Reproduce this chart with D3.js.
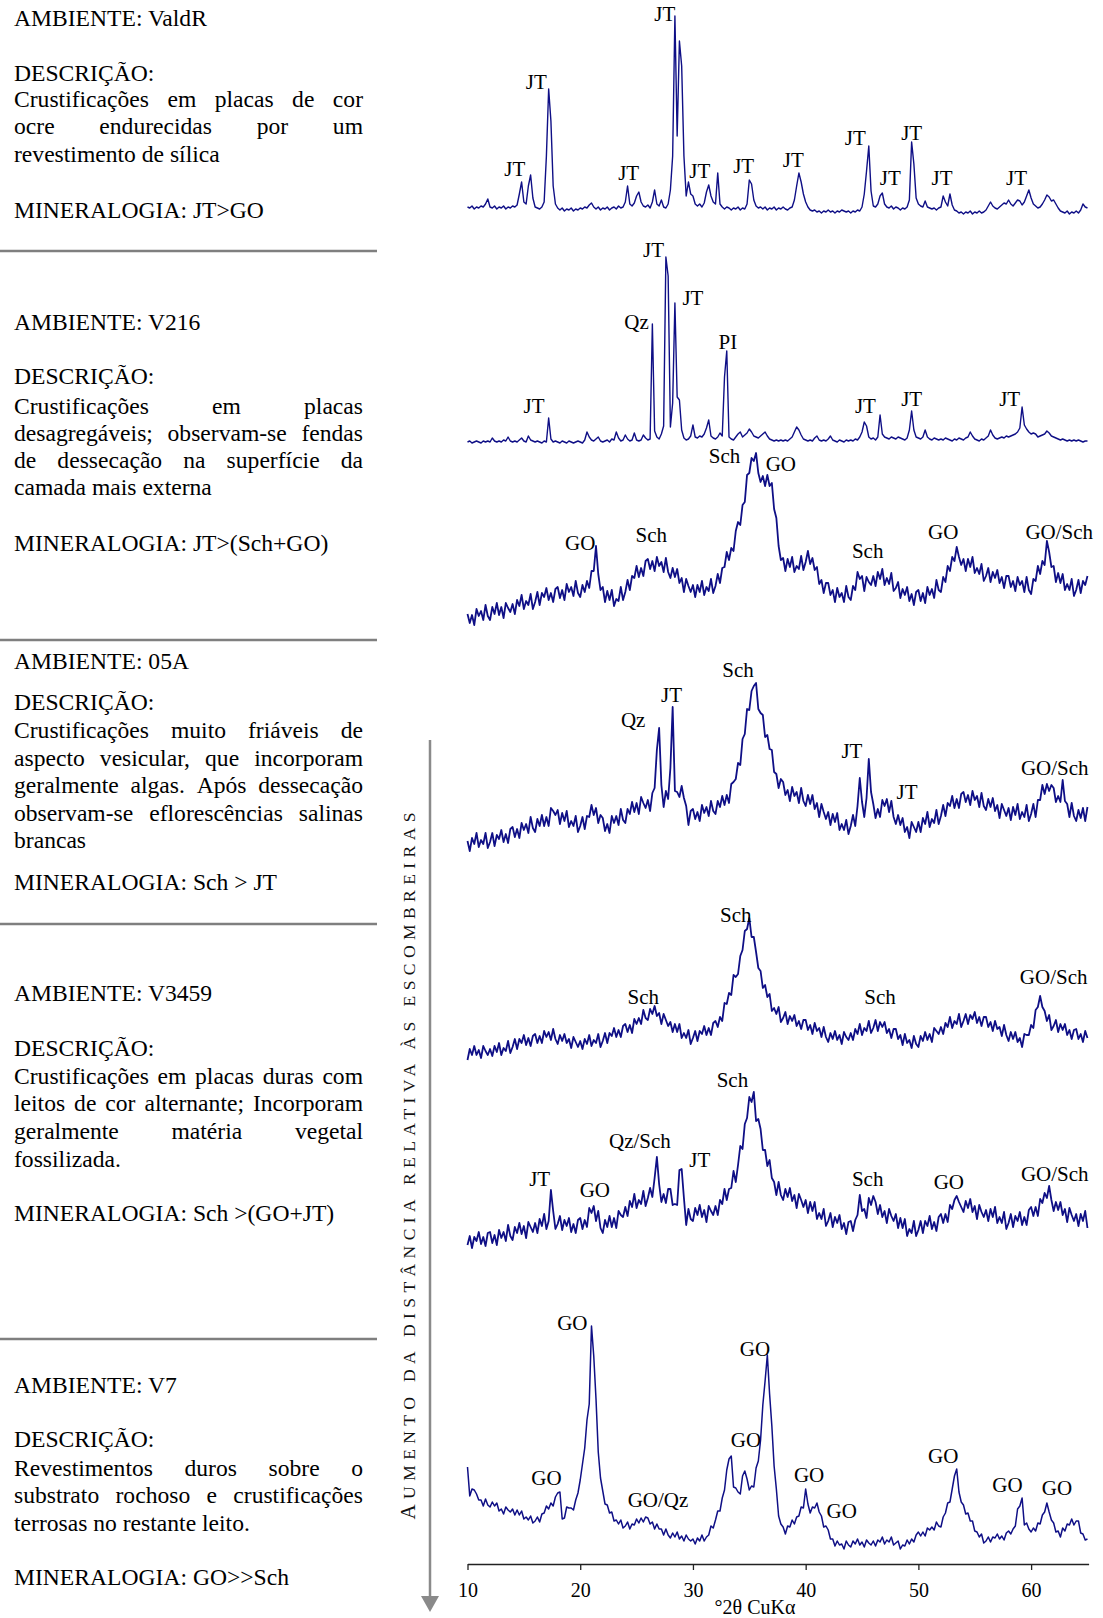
<!DOCTYPE html>
<html>
<head>
<meta charset="utf-8">
<script src="https://cdn.jsdelivr.net/npm/d3@7/dist/d3.min.js"></script>
<style>
  html, body { margin: 0; padding: 0; background: #fff; }
  svg { display: block; }
</style>
</head>
<body>
<svg id="fig" width="1103" height="1618"></svg>
<script>
// Every diffractogram is sampled on the same 2θ grid (degrees, Cu Kα)
const twoThetaStart = 10;
const twoThetaStep = 0.2;

// Intensities (counts, arbitrary units) from 10° to 65° in 0.2° steps, one row per 2°
const countsValdR = [
  9,8,10,7,9,8,10,9,12,17,
  9,8,10,7,9,8,10,7,9,8,
  10,9,11,22,34,14,12,30,41,18,
  9,8,7,9,14,60,127,95,30,12,
  8,6,8,5,7,6,8,5,7,6,
  8,7,9,8,11,13,9,7,9,6,
  8,7,9,6,8,9,7,10,8,9,
  14,30,12,10,13,20,24,14,10,9,
  11,8,14,26,12,10,16,9,8,12,
  26,60,200,80,175,150,60,20,34,22,
  20,12,10,12,9,13,24,31,20,14,
  12,43,12,9,7,9,8,6,8,7,
  9,6,8,7,12,36,32,16,10,8,
  9,7,9,6,8,7,9,6,8,7,
  9,7,6,8,9,16,30,43,34,22,
  14,9,6,5,6,4,5,3,5,4,
  6,4,5,3,5,4,6,5,4,5,
  3,5,4,6,5,9,22,45,70,25,
  10,9,12,20,23,12,9,8,10,7,
  9,8,6,8,7,9,16,74,52,18,
  12,10,9,15,9,8,7,8,6,8,
  9,20,14,10,22,11,6,5,3,4,
  2,4,3,5,2,4,3,5,3,4,
  6,10,14,10,8,7,9,11,13,12,
  16,12,10,13,16,15,11,14,20,26,
  18,12,10,8,9,12,16,21,19,15,
  16,12,8,5,4,3,5,2,4,3,
  5,3,6,12,9,8
];

const countsV216a = [
  4,5,3,4,5,4,3,5,4,5,
  4,8,5,4,5,4,6,5,9,5,
  4,5,4,6,8,5,4,10,6,5,
  4,5,4,3,5,4,28,7,4,5,
  4,3,5,4,3,5,4,3,4,5,
  4,3,6,14,9,6,5,7,9,5,
  4,5,6,4,7,6,14,8,5,6,
  11,7,5,6,13,6,5,6,11,8,
  6,7,122,15,9,7,12,20,189,170,
  19,43,143,49,46,16,8,6,7,10,
  21,9,8,10,9,12,18,26,10,8,
  7,9,13,10,69,95,9,7,6,9,
  12,14,9,11,13,17,14,10,9,8,
  10,12,14,10,7,6,5,6,5,6,
  5,6,5,7,9,14,19,16,11,7,
  6,5,6,5,8,10,6,5,6,5,
  7,10,6,5,4,6,5,4,6,5,
  6,5,7,6,9,14,24,20,9,7,
  8,6,9,31,12,9,8,7,9,8,
  7,9,8,7,6,8,16,35,16,9,
  8,7,9,16,9,7,6,8,7,6,
  7,6,8,7,6,5,7,6,8,7,
  6,8,9,14,10,7,6,5,7,6,
  8,10,16,11,8,7,8,9,8,10,
  9,10,11,12,14,18,39,21,17,14,
  12,13,12,9,10,11,12,15,13,10,
  9,8,7,6,7,6,5,6,5,6,
  5,6,5,4,5,5
];

const countsV216b = [
  18,9,17,7,23,16,21,12,27,16,
  12,25,18,29,17,25,14,29,24,20,
  28,18,32,26,37,23,31,27,38,23,
  30,40,27,39,35,44,32,39,30,43,
  45,34,42,32,48,40,45,36,51,39,
  35,47,40,51,44,61,61,86,58,42,
  45,30,41,32,42,26,33,31,45,32,
  40,52,42,56,54,66,55,64,56,71,
  73,63,71,61,75,66,70,60,74,60,
  54,64,55,63,49,54,40,53,46,40,
  47,35,47,40,51,37,45,41,53,39,
  46,58,49,64,65,80,72,84,81,101,
  110,107,127,130,157,159,174,171,179,159,
  150,156,146,157,146,149,123,114,86,72,
  74,61,73,65,75,60,66,63,76,62,
  70,81,68,74,62,65,48,52,39,49,
  49,37,42,30,44,35,39,30,46,35,
  32,46,42,60,53,56,41,55,50,47,
  56,46,60,53,63,47,54,48,59,41,
  44,50,34,43,37,45,31,38,27,40,
  42,31,39,29,45,37,43,34,52,42,
  40,55,50,66,61,75,71,85,75,67,
  73,61,73,65,75,59,64,58,68,51,
  56,64,50,60,54,62,49,55,44,56,
  56,45,51,41,55,47,51,40,55,42,
  38,53,51,66,58,71,67,91,80,65,
  66,50,59,49,58,42,48,42,53,36,
  42,52,39,51,47,56
];

const counts05A = [
  19,9,22,16,27,13,20,16,27,12,
  18,27,14,25,21,30,18,26,17,31,
  33,23,31,22,37,30,36,27,43,32,
  28,41,34,45,34,43,34,52,49,45,
  50,36,47,39,49,33,39,34,44,28,
  34,43,31,44,43,55,45,52,37,45,
  42,29,36,27,44,37,44,35,51,40,
  37,51,46,58,48,57,46,63,57,52,
  60,49,67,72,110,132,75,53,69,61,
  92,153,69,68,63,74,62,54,35,49,
  51,41,48,39,55,47,53,44,59,49,
  46,59,53,64,55,65,57,76,78,81,
  97,95,121,126,151,150,169,174,177,151,
  147,145,123,125,111,110,88,86,72,81,
  78,65,70,59,73,64,68,57,72,59,
  54,65,56,65,51,57,43,56,48,41,
  48,35,46,38,47,30,36,30,40,26,
  34,45,34,54,82,58,43,62,101,68,
  56,42,51,43,60,54,61,48,59,43,
  36,45,35,42,28,33,22,38,33,28,
  38,28,42,36,48,33,41,37,50,36,
  44,55,44,57,54,64,52,61,52,66,
  68,58,65,55,69,60,64,53,67,54,
  50,61,53,62,49,55,42,56,50,44,
  52,40,53,45,56,41,48,43,55,39,
  46,56,43,60,60,75,66,76,69,75,
  72,58,64,58,80,59,56,43,57,44,
  39,50,42,52,39,53
];

const countsV3459a = [
  2,13,7,16,7,12,4,16,11,7,
  13,6,16,10,19,7,14,11,21,9,
  15,23,13,23,19,27,17,24,16,26,
  28,19,26,19,31,25,30,22,33,23,
  18,27,21,28,19,23,14,25,20,15,
  21,13,23,18,27,16,22,19,28,15,
  21,29,19,29,26,34,25,32,25,36,
  38,30,37,29,43,38,44,38,52,44,
  42,53,48,56,46,49,38,48,42,36,
  40,30,38,30,38,24,29,24,32,18,
  24,31,21,31,28,36,27,34,27,39,
  41,35,45,41,59,58,69,67,87,85,
  88,106,112,131,133,144,125,125,110,94,
  91,74,77,65,68,51,54,48,55,40,
  44,50,38,46,41,47,36,41,33,42,
  42,32,37,28,39,31,34,25,35,25,
  20,29,23,31,22,27,18,30,25,22,
  29,22,33,28,38,27,34,31,41,29,
  34,42,31,40,35,40,29,33,24,33,
  33,23,27,17,28,19,22,14,26,18,
  15,26,21,30,22,28,20,34,31,28,
  35,28,39,35,45,34,41,38,48,35,
  41,48,38,47,43,50,39,45,36,45,
  45,35,40,31,41,33,35,26,37,27,
  21,30,23,30,20,24,15,28,27,27,
  37,34,52,55,66,55,51,41,47,32,
  36,42,30,38,32,38,27,32,23,32,
  33,23,28,20,31,24
];

const countsV3459b = [
  7,16,4,15,11,20,8,15,6,19,
  20,9,17,7,22,14,20,11,27,16,
  12,25,19,29,18,26,14,30,25,20,
  29,19,33,26,38,23,31,62,41,23,
  28,36,22,32,26,34,20,28,19,32,
  34,23,32,25,44,39,46,31,41,24,
  19,32,25,36,25,34,24,41,37,35,
  45,36,51,45,58,44,52,48,61,46,
  54,64,55,74,95,68,50,58,49,63,
  63,47,48,47,82,83,54,27,43,33,
  31,44,37,47,35,42,30,46,41,37,
  46,37,52,48,63,52,63,64,81,70,
  87,106,103,128,134,155,150,160,131,133,
  123,102,102,86,92,74,70,57,70,57,
  52,63,55,64,51,57,44,58,52,45,
  52,39,50,41,50,33,39,33,43,26,
  31,39,25,35,29,37,23,29,18,30,
  31,21,32,37,57,41,43,34,54,47,
  56,50,38,47,35,41,29,43,36,31,
  38,24,34,24,33,16,23,19,31,16,
  22,31,19,31,26,36,23,30,21,35,
  38,29,38,30,47,43,52,56,50,45,
  40,51,44,53,40,46,33,47,40,35,
  42,31,43,35,45,29,35,29,40,23,
  29,38,25,36,31,40,27,35,27,42,
  45,36,45,36,53,49,59,54,66,52,
  41,50,42,50,37,43,30,44,37,31,
  38,26,38,31,41,24
];

const countsV7 = [
  85,56,63,62,58,52,52,46,53,47,
  45,50,46,49,41,43,38,45,42,40,
  43,37,42,37,41,33,35,32,36,29,
  31,35,30,38,39,46,43,49,46,55,
  59,60,33,34,45,44,44,42,52,59,
  72,88,104,132,148,226,196,153,100,74,
  61,48,47,39,40,31,32,28,32,24,
  26,30,23,28,27,33,29,34,30,35,
  34,28,30,23,28,23,23,17,23,17,
  14,19,15,20,13,16,11,17,13,11,
  13,8,14,11,17,11,15,17,26,24,
  32,41,41,54,62,82,93,96,65,64,
  60,58,76,81,73,62,66,65,84,91,
  112,147,171,197,158,126,86,63,36,28,
  25,18,26,25,32,28,35,36,45,44,
  63,48,39,45,44,49,40,36,25,26,
  22,13,13,6,11,7,8,3,11,7,
  5,11,8,13,7,10,5,12,9,7,
  11,6,12,10,15,8,12,10,15,7,
  9,11,3,7,6,12,8,13,10,17,
  20,16,20,16,24,22,25,22,30,26,
  25,35,39,49,50,63,76,83,60,50,
  47,38,39,31,31,21,20,15,18,9,
  11,15,10,15,14,18,13,16,12,19,
  21,18,23,26,43,46,54,27,29,23,
  20,24,21,29,28,37,40,49,40,32,
  29,20,21,15,24,21,28,27,33,27,
  31,31,19,18,12,13
];

// Phase identifications: [label, 2θ, count level of the label]
const labelsValdR = [["JT",14.2,47],["JT",16.1,134],["JT",24.3,43],["JT",27.5,202],["JT",30.6,45],["JT",34.5,50],
  ["JT",38.9,56],["JT",44.4,78],["JT",49.4,83],["JT",47.5,38],["JT",52.1,38],["JT",58.7,38]];
const labelsV216a = [["JT",15.9,40],["Qz",25.0,124],["JT",26.5,196],["JT",30.0,148],["PI",33.1,104],
  ["JT",45.3,40],["JT",49.4,47],["JT",58.1,47]];
const labelsV216b = [["Sch",32.8,176],["GO",37.8,168],["GO",20.0,89],["Sch",26.3,97],["Sch",45.5,81],
  ["GO",52.2,100],["GO/Sch",62.5,100]];
const labels05A = [["Sch",34.0,190],["JT",28.1,165],["Qz",24.7,140],["JT",44.1,109],["JT",49.0,68],["GO/Sch",62.1,92]];
const labelsV3459a = [["Sch",33.8,147],["Sch",25.6,65],["Sch",46.6,65],["GO/Sch",62.0,85]];
const labelsV3459b = [["Sch",33.5,172],["Qz/Sch",25.3,111],["JT",30.6,92],["JT",16.4,73],["GO",21.3,62],
  ["Sch",45.5,73],["GO",52.7,70],["GO/Sch",62.1,78]];
const labelsV7 = [["GO",19.3,229],["GO",35.5,203],["GO",34.7,112],["GO",17.0,74],["GO/Qz",26.9,52],
  ["GO",40.3,77],["GO",43.2,41],["GO",52.2,96],["GO",57.9,67],["GO",62.3,64]];

const xTicks = [10, 20, 30, 40, 50, 60];
const xTitle = "°2θ CuKα";
// caption of the trend arrow: initial capital, then the rest set in small capitals
const trendInitial = "A";
const trendRest = "UMENTO DA DISTÂNCIA RELATIVA ÀS ESCOMBREIRAS";

// Sample descriptions
const ambientes = ["AMBIENTE: ValdR", "AMBIENTE: V216", "AMBIENTE: 05A", "AMBIENTE: V3459", "AMBIENTE: V7"];
const descricaoTitulo = "DESCRIÇÃO:";
const descricoes = [
  ["Crustificações em placas de cor", "ocre endurecidas por um", "revestimento de sílica"],
  ["Crustificações em placas", "desagregáveis; observam-se fendas", "de dessecação na superfície da", "camada mais externa"],
  ["Crustificações muito friáveis de", "aspecto vesicular, que incorporam", "geralmente algas. Após dessecação",
   "observam-se eflorescências salinas", "brancas"],
  ["Crustificações em placas duras com", "leitos de cor alternante; Incorporam", "geralmente matéria vegetal", "fossilizada."],
  ["Revestimentos duros sobre o", "substrato rochoso e crustificações", "terrosas no restante leito."]
];
const mineralogias = ["MINERALOGIA: JT>GO", "MINERALOGIA: JT>(Sch+GO)", "MINERALOGIA: Sch > JT",
  "MINERALOGIA: Sch >(GO+JT)", "MINERALOGIA: GO>>Sch"];

// ---------------- layout ----------------
const W = 1103, H = 1618;
const SERIF = "'Liberation Serif', 'Times New Roman', Times, serif";
const INK = "#0f0f86";
const svg = d3.select("#fig").attr("width", W).attr("height", H);
svg.append("rect").attr("width", W).attr("height", H).attr("fill", "#fff");

// Text column on the left
const textX = 14, textRight = 363;
const panelLayout = [
  { amb: 26,   desc: 80.5, first: 107,    step: 27.3, min: 218 },
  { amb: 330,  desc: 384,  first: 413.5,  step: 27.2, min: 551 },
  { amb: 669,  desc: 710,  first: 738,    step: 27.5, min: 890 },
  { amb: 1001, desc: 1056, first: 1083.5, step: 27.7, min: 1221 },
  { amb: 1393, desc: 1447, first: 1475.5, step: 27.5, min: 1585 }
];
const separators = [251, 640, 924, 1339];

const textG = svg.append("g").attr("font-family", SERIF).attr("font-size", 23.6).attr("fill", "#000");
const probe = textG.append("text").attr("x", -1000).attr("y", -1000);
const measure = s => { probe.text(s); return probe.node().getComputedTextLength(); };

function writeLine(str, yb, justify) {
  if (!justify) {
    textG.append("text").attr("x", textX).attr("y", yb).text(str);
    return;
  }
  const words = str.split(" ");
  const widths = words.map(measure);
  const gap = (textRight - textX - d3.sum(widths)) / (words.length - 1);
  const t = textG.append("text").attr("y", yb);
  let cx = textX;
  words.forEach((w, i) => {
    t.append("tspan").attr("x", cx).text(w);
    cx += widths[i] + gap;
  });
}

panelLayout.forEach((p, k) => {
  writeLine(ambientes[k], p.amb, false);
  writeLine(descricaoTitulo, p.desc, false);
  const lines = descricoes[k];
  lines.forEach((ln, i) => writeLine(ln, p.first + i * p.step, i < lines.length - 1));
  writeLine(mineralogias[k], p.min, false);
});
probe.remove();

svg.append("g").selectAll("line").data(separators).join("line")
  .attr("x1", 0).attr("x2", 377).attr("y1", d => d).attr("y2", d => d)
  .attr("stroke", "#7f7f7f").attr("stroke-width", 2.5);

// Trend arrow and its caption
svg.append("line").attr("x1", 430).attr("x2", 430).attr("y1", 740).attr("y2", 1600)
  .attr("stroke", "#8a8a8a").attr("stroke-width", 2.5);
svg.append("path").attr("d", "M421,1596L439,1596L430,1612Z").attr("fill", "#8a8a8a");
const trend = svg.append("text")
  .attr("transform", "translate(415,1166) rotate(-90)")
  .attr("text-anchor", "middle")
  .attr("font-family", SERIF).attr("fill", "#111")
  .attr("textLength", 707).attr("lengthAdjust", "spacing");
trend.append("tspan").attr("font-size", 21).text(trendInitial);
trend.append("tspan").attr("font-size", 17.5).text(trendRest);

// ---------------- diffractograms ----------------
const x = d3.scaleLinear().domain([10, 65.1]).range([467.5, 1088.6]);

const traces = [
  { counts: countsValdR,  labels: labelsValdR,  bottom: 216,  weight: 1.4 },
  { counts: countsV216a,  labels: labelsV216a,  bottom: 446,  weight: 1.4 },
  { counts: countsV216b,  labels: labelsV216b,  bottom: 632,  weight: 1.8 },
  { counts: counts05A,    labels: labels05A,    bottom: 860,  weight: 1.8 },
  { counts: countsV3459a, labels: labelsV3459a, bottom: 1062, weight: 1.8 },
  { counts: countsV3459b, labels: labelsV3459b, bottom: 1252, weight: 1.8 },
  { counts: countsV7,     labels: labelsV7,     bottom: 1552, weight: 1.5 }
];

const plotG = svg.append("g");
traces.forEach(tr => {
  const y = d3.scaleLinear().domain([0, 250]).range([tr.bottom, tr.bottom - 250]);
  const line = d3.line()
    .x((d, i) => x(twoThetaStart + i * twoThetaStep))
    .y(d => y(d));
  plotG.append("path").datum(tr.counts)
    .attr("d", line)
    .attr("fill", "none")
    .attr("stroke", INK)
    .attr("stroke-width", tr.weight)
    .attr("stroke-linejoin", "round");
  plotG.append("g").attr("font-family", SERIF).attr("font-size", 21).attr("fill", "#000")
    .attr("text-anchor", "middle")
    .selectAll("text").data(tr.labels).join("text")
    .attr("x", d => x(d[1]))
    .attr("y", d => y(d[2]))
    .attr("dy", "0.34em")
    .text(d => d[0]);
});

// 2θ axis
const axis = d3.axisBottom(x).tickValues(xTicks).tickSize(6).tickSizeOuter(0).tickPadding(13).tickFormat(d3.format("d"));
const axG = svg.append("g").attr("transform", "translate(0,1564)").call(axis);
axG.select(".domain").attr("stroke", "#222").attr("stroke-width", 1.3);
axG.selectAll(".tick line").attr("stroke", "#222").attr("stroke-width", 1.3);
axG.selectAll(".tick text").attr("font-family", SERIF).attr("font-size", 20).attr("fill", "#000");
svg.append("text").attr("x", 755).attr("y", 1614).attr("text-anchor", "middle")
  .attr("font-family", SERIF).attr("font-size", 20).attr("fill", "#000")
  .text(xTitle);
</script>
</body>
</html>
